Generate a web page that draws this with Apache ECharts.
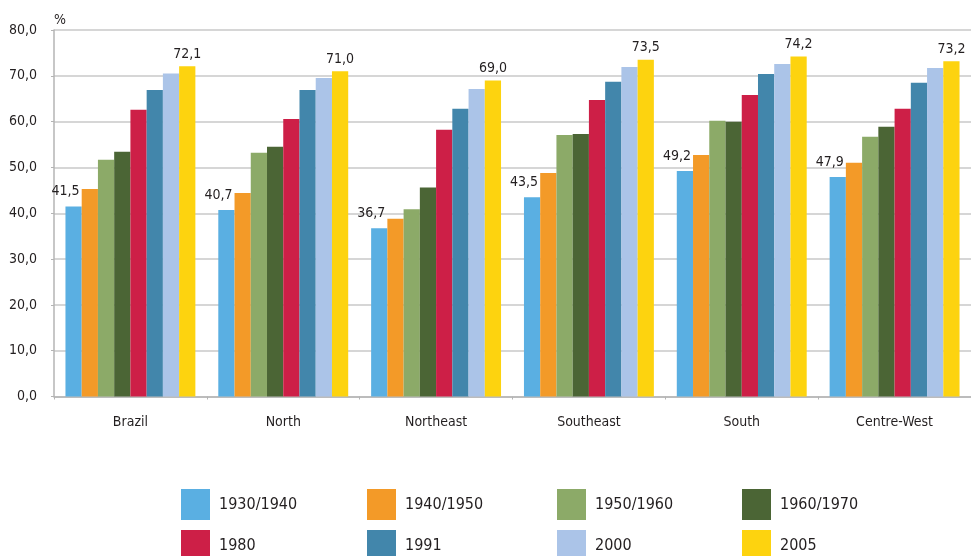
<!DOCTYPE html>
<html><head><meta charset="utf-8">
<script src="https://cdn.jsdelivr.net/npm/echarts@6/dist/echarts.min.js"></script>
<style>html,body{margin:0;padding:0;background:#fff}#c{width:971px;height:556px}</style>
</head><body><div id="c"></div>
<script>
const categories = ['Brazil', 'North', 'Northeast', 'Southeast', 'South', 'Centre-West'];
const seriesNames = ['1930/1940', '1940/1950', '1950/1960', '1960/1970', '1980', '1991', '2000', '2005'];
const v1930 = [41.5, 40.7, 36.7, 43.5, 49.2, 47.9];
const v1940 = [45.3, 44.4, 38.8, 48.8, 52.7, 51.0];
const v1950 = [51.7, 53.2, 40.9, 57.1, 60.2, 56.7];
const v1960 = [53.4, 54.5, 45.6, 57.3, 60.0, 58.9];
const v1980 = [62.6, 60.6, 58.2, 64.7, 65.8, 62.8];
const v1991 = [66.9, 66.9, 62.8, 68.7, 70.4, 68.5];
const v2000 = [70.5, 69.5, 67.1, 71.9, 72.6, 71.7];
const v2005 = [72.1, 71.0, 69.0, 73.5, 74.2, 73.2];
const yTicks = ['0,0', '10,0', '20,0', '30,0', '40,0', '50,0', '60,0', '70,0', '80,0'];

const allValues = [v1930, v1940, v1950, v1960, v1980, v1991, v2000, v2005];
const colors = ['#5aafe2', '#f39a28', '#8caa68', '#4b6535', '#cd1f47', '#4286ab', '#abc4e8', '#fdd30f'];
const FONT = "'Liberation Sans Narrow', 'DejaVu Sans Condensed', sans-serif";
const fmt = v => v.toFixed(1).replace('.', ',');

const series = seriesNames.map((name, i) => {
  const labelled = i === 0 || i === seriesNames.length - 1;
  return {
    name, type: 'bar', data: allValues[i], barGap: '0%', barCategoryGap: '15%',
    itemStyle: { color: colors[i] },
    label: labelled ? {
      show: true, position: 'top', distance: 5,
      offset: i === 0 ? [-8, -3] : [0, 0],
      formatter: p => fmt(p.value), fontFamily: FONT, fontSize: 14, color: '#231f20'
    } : { show: false }
  };
});

const legendX = [181, 367, 557, 742];
const legendY = [489, 530];
const legends = seriesNames.map((name, i) => ({
  data: [name], left: legendX[i % 4], top: legendY[Math.floor(i / 4)],
  itemWidth: 29, itemHeight: 31, icon: 'rect', padding: 0, selectedMode: false,
  textStyle: { fontFamily: FONT, fontSize: 16, color: '#231f20', padding: [0, 0, 0, 4] }
}));

const chart = echarts.init(document.getElementById('c'), null, { renderer: 'canvas' });
chart.setOption({
  animation: false,
  backgroundColor: '#fff',
  grid: { left: 54, width: 926, top: 30, height: 366.5, containLabel: false },
  legend: legends,
  xAxis: {
    type: 'category', data: categories,
    axisLine: { lineStyle: { color: '#b4b4b4', width: 1.5 } },
    axisTick: { show: true, length: 3, lineStyle: { color: '#b4b4b4' } },
    axisLabel: { margin: 19, fontFamily: FONT, fontSize: 14, color: '#231f20' }
  },
  yAxis: {
    type: 'value', min: 0, max: 80, interval: 10,
    name: '%', nameLocation: 'end', nameGap: 3,
    nameTextStyle: { fontFamily: FONT, fontSize: 14, color: '#231f20', align: 'left' },
    axisLine: { show: true, lineStyle: { color: '#b4b4b4', width: 1.5 } },
    axisTick: { show: true, length: 3, lineStyle: { color: '#b4b4b4' } },
    splitLine: { lineStyle: { color: '#c8c8c8', width: 1.5 } },
    axisLabel: { margin: 17, fontFamily: FONT, fontSize: 14, color: '#231f20',
      formatter: v => yTicks[Math.round(v / 10)] }
  },
  series
});
</script></body></html>
